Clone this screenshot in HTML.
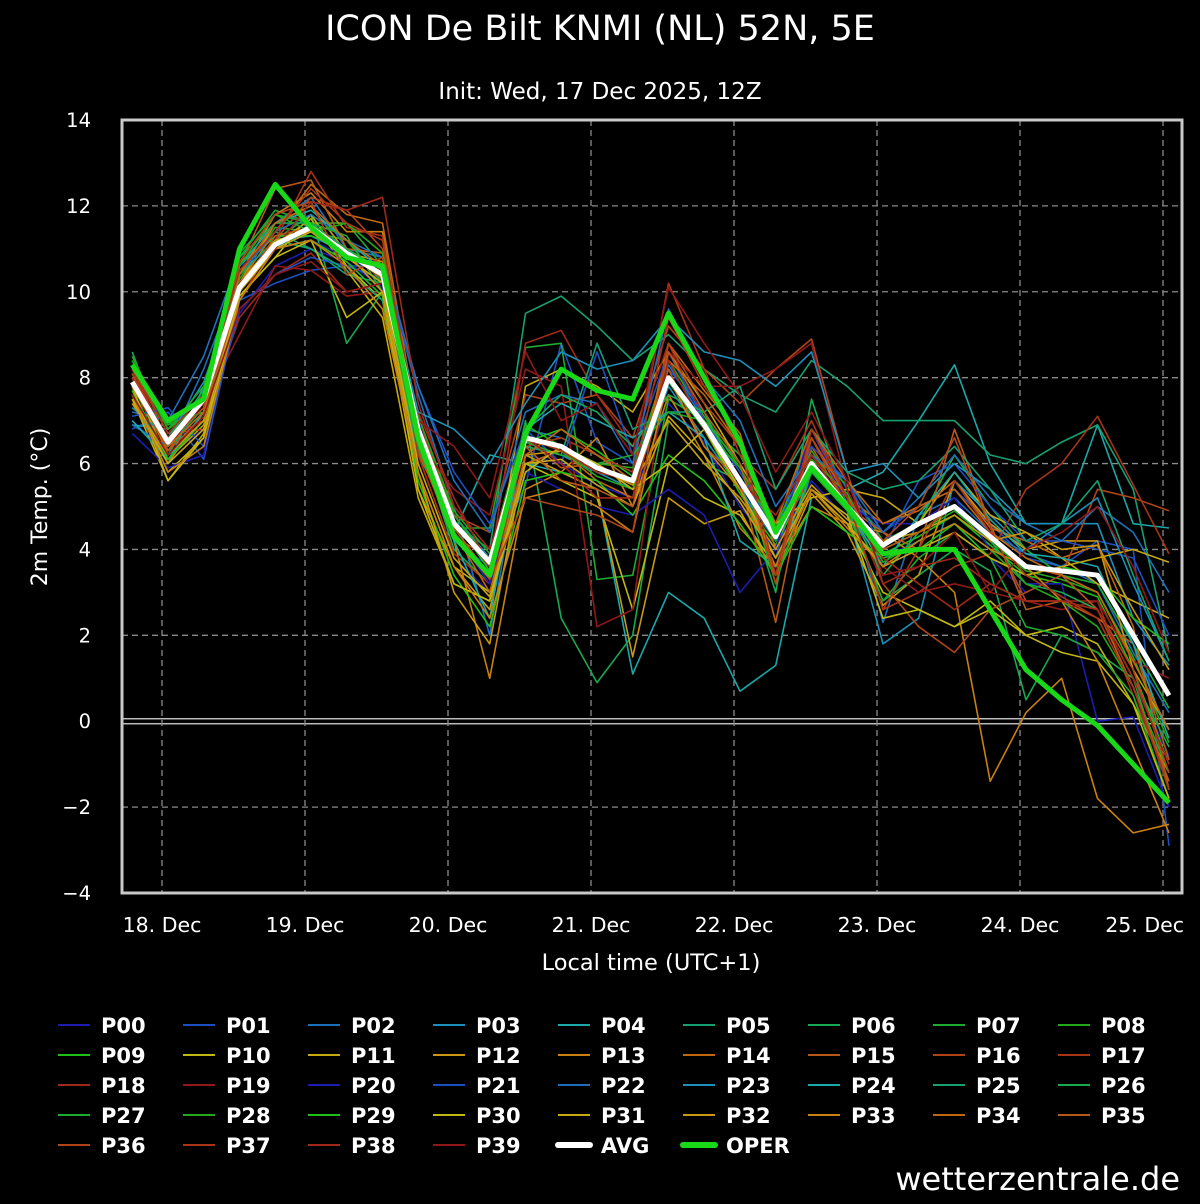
<!DOCTYPE html>
<html><head><meta charset="utf-8"><style>
html,body{margin:0;padding:0;background:#000;}
body{width:1200px;height:1200px;overflow:hidden;font-family:"DejaVu Sans","Liberation Sans",sans-serif;color:#fff;}
svg text{fill:#fff;}
</style></head><body>
<svg id="chart" width="1200" height="1200" xmlns="http://www.w3.org/2000/svg">
<rect x="0" y="0" width="1200" height="1200" fill="#000"/>
<text x="600" y="40" font-size="35" text-anchor="middle" font-family="DejaVu Sans, sans-serif">ICON De Bilt KNMI (NL) 52N, 5E</text>
<text x="600" y="99" font-size="23" text-anchor="middle" font-family="DejaVu Sans, sans-serif">Init: Wed, 17 Dec 2025, 12Z</text>
<g id="grid"></g>
<g id="series"></g>
<rect x="122" y="120" width="1060" height="773" fill="none" stroke="#c8c8c8" stroke-width="3"/>
<g id="axes"></g>
<text transform="translate(47,507) rotate(-90)" font-size="22" text-anchor="middle">2m Temp. (°C)</text>
<text x="651" y="970" font-size="22.5" text-anchor="middle">Local time (UTC+1)</text>
<g id="legend"></g>
<text x="1180" y="1190" font-size="32" text-anchor="end">wetterzentrale.de</text>
</svg>
<script>
const yTicks=[14,12,10,8,6,4,2,0,-2,-4];
const dayLabels=["18. Dec","19. Dec","20. Dec","21. Dec","22. Dec","23. Dec","24. Dec","25. Dec"];
const hours=[-5,1,7,13,19,25,31,37,43,49,55,61,67,73,79,85,91,97,103,109,115,121,127,133,139,145,151,157,163,169];
const avg=[7.9,6.5,7.5,10.1,11.1,11.5,10.9,10.4,6.8,4.6,3.7,6.6,6.4,5.9,5.6,8.0,6.9,5.6,4.3,6.0,5.0,4.1,4.6,5.0,4.3,3.6,3.5,3.4,2.0,0.6];
const oper=[8.3,7.0,7.5,11.0,12.5,11.5,10.8,10.6,6.6,4.3,3.4,6.7,8.2,7.7,7.5,9.5,8.0,6.5,4.4,5.9,5.0,3.9,4.0,4.0,2.6,1.2,0.5,-0.1,-1.0,-1.9];
const members=[
[7.0,6.2,6.8,9.5,10.6,11.0,10.7,10.1,6.0,3.8,3.0,6.2,6.0,5.5,5.2,7.4,6.5,5.0,4.0,5.6,4.7,3.8,4.2,4.6,3.8,3.0,3.4,2.6,1.0,-0.8],
[6.8,7.2,6.1,9.8,10.2,10.5,10.6,10.3,7.2,4.2,3.6,5.5,8.8,6.5,6.0,8.2,7.2,5.5,3.8,6.6,5.2,4.4,5.0,5.4,4.6,3.8,3.6,4.2,4.0,-2.9],
[7.2,7.0,8.5,10.8,11.6,12.2,11.0,10.8,7.6,5.0,2.0,6.8,6.6,6.2,5.8,8.3,7.0,5.8,4.4,6.8,5.4,2.3,4.8,5.2,4.4,3.9,3.6,3.2,1.6,0.2],
[6.9,6.8,7.6,10.4,11.2,11.3,10.9,10.0,7.0,4.8,3.8,6.4,6.2,5.8,5.4,7.8,6.6,5.4,4.2,6.0,4.9,1.8,2.4,5.6,4.8,4.0,4.6,4.6,2.4,1.3],
[7.4,6.0,7.8,10.2,11.0,11.6,10.8,10.4,6.4,4.4,6.2,6.0,5.8,5.4,1.1,3.0,2.4,0.7,1.3,5.2,5.4,5.8,7.0,8.3,6.0,4.6,4.6,6.9,4.6,4.5],
[8.0,6.6,7.0,10.6,11.4,11.0,10.4,10.2,6.2,4.6,4.0,9.5,9.9,9.2,8.4,9.0,8.2,7.6,7.2,8.4,7.8,7.0,7.0,7.0,6.2,6.0,6.5,6.9,5.4,1.6],
[8.6,6.4,7.3,10.0,11.2,11.8,8.8,10.0,6.6,4.0,3.2,7.0,2.4,0.9,2.0,7.0,6.0,5.6,3.0,7.5,5.0,2.8,3.4,4.0,3.5,0.5,2.0,1.6,1.0,-1.6],
[8.4,6.8,7.4,10.8,11.9,11.6,11.6,10.6,6.9,4.5,4.5,8.7,8.8,3.3,3.4,7.5,7.0,6.2,4.6,6.2,5.5,4.2,4.6,6.2,5.0,4.0,3.4,3.2,1.8,0.3],
[8.2,6.9,7.6,10.3,11.5,11.4,11.2,10.2,7.1,4.9,3.9,6.9,6.4,6.0,5.9,8.4,7.1,5.9,4.5,6.3,5.1,4.0,4.4,4.9,4.2,3.5,3.3,3.0,1.5,-0.5],
[7.8,6.3,7.1,10.5,11.3,11.3,11.0,10.5,6.7,4.7,3.5,6.5,6.8,6.3,5.7,8.0,6.8,5.3,4.1,5.8,4.9,3.9,4.3,4.8,4.1,3.4,3.2,2.9,1.2,-1.0],
[7.6,5.8,6.6,9.9,10.8,11.8,10.6,9.8,5.8,3.6,3.0,6.0,5.6,5.2,2.6,6.0,5.2,4.8,3.6,5.4,4.6,3.0,2.6,2.2,2.8,2.0,2.2,1.8,0.4,-1.2],
[7.5,5.6,6.7,10.0,11.1,11.7,10.5,9.4,5.2,3.2,2.8,7.8,8.2,7.8,7.2,8.6,7.4,6.0,4.6,5.2,5.4,5.2,4.6,5.8,4.8,4.4,3.8,3.2,2.8,2.4],
[7.9,6.1,6.9,10.2,11.6,12.0,10.9,10.7,5.4,3.6,2.6,6.2,5.8,5.4,1.5,5.2,4.6,4.9,3.4,5.3,4.4,2.7,3.4,5.6,4.6,4.0,4.2,4.2,1.2,-0.2],
[7.7,6.0,7.2,10.4,11.8,12.3,11.4,11.4,6.4,4.2,1.0,5.4,5.8,6.6,5.0,7.6,6.2,4.5,3.6,5.0,4.6,4.4,3.8,3.0,-1.4,0.2,1.0,-1.8,-2.6,-2.4],
[8.1,6.2,7.0,10.2,11.4,12.5,11.8,11.6,6.8,4.4,3.4,6.0,6.3,5.6,5.2,8.8,7.7,6.7,4.0,6.6,5.2,4.6,4.9,5.6,4.5,4.2,3.8,4.1,2.2,-1.6],
[8.0,6.3,7.5,10.6,12.4,12.6,11.0,10.9,6.3,4.3,3.8,6.6,5.9,6.0,5.5,8.2,6.4,5.6,2.3,6.4,5.0,4.4,4.0,6.8,4.6,2.6,2.8,2.4,1.8,-0.9],
[8.3,6.7,6.8,10.1,11.2,12.2,11.9,11.0,7.0,4.8,4.4,7.6,7.4,7.6,6.6,9.2,8.2,7.4,8.2,8.9,5.8,3.2,2.2,1.6,2.6,3.0,3.4,5.4,5.2,4.9],
[8.2,6.5,7.4,9.8,11.2,12.8,11.5,11.3,6.2,3.9,3.2,6.4,6.6,6.2,5.8,10.2,8.2,6.2,5.4,7.0,5.2,2.6,3.0,3.6,3.9,5.4,6.0,7.1,5.5,3.9],
[7.6,6.6,7.0,9.4,10.4,10.9,10.0,10.2,7.2,5.2,3.6,8.8,9.1,7.6,6.4,8.8,7.0,5.4,3.6,6.2,5.2,3.2,3.6,3.8,3.2,2.8,2.8,2.8,0.6,-1.4],
[7.8,6.4,7.4,9.0,10.6,10.5,9.9,10.0,6.5,5.4,4.8,8.2,7.8,2.2,2.6,8.6,7.8,7.8,8.2,8.8,5.4,3.6,3.0,3.2,3.0,2.8,2.6,2.8,1.4,1.0],
[6.7,5.9,6.2,10.6,11.0,11.2,10.8,10.4,7.0,4.4,3.2,5.8,5.4,5.0,4.8,5.4,4.8,3.0,4.0,6.8,5.0,4.6,4.6,5.2,4.0,3.2,3.2,0.0,0.1,-2.0],
[7.1,7.3,6.4,9.6,10.4,10.8,10.6,10.6,7.8,5.8,4.6,6.8,6.0,8.6,6.2,8.6,7.0,5.8,4.4,6.4,5.6,4.0,5.6,6.0,5.0,4.2,4.2,4.0,3.8,2.0],
[6.9,6.4,8.2,10.4,11.4,11.8,11.2,10.8,7.8,5.6,4.4,7.2,7.6,7.4,6.0,9.6,8.0,7.0,5.0,6.2,5.6,4.4,5.2,6.2,5.2,4.6,4.2,5.0,4.4,3.0],
[7.3,6.6,7.9,10.2,11.0,11.4,10.8,10.6,7.2,6.8,6.0,7.4,8.6,8.2,8.4,9.4,8.6,8.4,7.8,8.6,5.8,6.0,5.2,6.0,5.4,4.6,4.6,5.2,3.2,1.4],
[7.0,6.1,7.2,10.6,11.6,11.9,11.2,10.5,6.6,4.2,2.4,6.8,7.4,7.0,6.6,7.2,6.6,4.2,3.6,5.8,5.0,3.6,4.8,5.8,4.7,3.9,3.8,3.6,1.8,-0.4],
[7.5,6.2,7.6,10.4,11.2,11.0,10.5,9.8,6.6,4.6,3.6,6.4,6.2,8.8,6.8,7.2,7.2,7.8,5.4,6.8,5.8,5.4,5.6,6.4,5.4,4.2,4.6,5.6,3.4,1.4],
[8.0,6.6,7.7,10.8,11.6,11.6,11.0,10.4,6.8,4.6,3.6,6.8,7.6,7.2,6.4,7.6,7.2,5.6,4.2,6.0,5.0,3.4,4.4,5.0,4.2,3.2,3.0,2.6,1.0,-0.6],
[8.4,6.9,7.2,10.9,11.8,11.6,11.3,10.0,6.4,4.4,3.4,6.5,6.2,6.0,6.2,7.2,7.0,6.0,3.2,5.8,4.9,2.8,3.8,4.4,3.8,2.2,2.0,1.6,0.6,-1.8],
[8.5,6.8,7.8,10.6,11.8,11.4,11.6,10.9,6.9,4.8,3.7,6.6,6.3,5.7,5.4,7.9,6.8,5.9,4.4,6.1,5.3,3.7,4.2,4.6,4.0,3.2,2.8,2.2,0.8,-1.2],
[7.7,6.1,7.0,10.1,11.0,11.2,10.7,9.9,5.6,3.4,2.2,5.6,5.8,5.6,4.8,6.2,5.6,4.6,3.4,5.0,4.4,3.8,4.0,4.6,3.8,3.4,3.6,3.4,2.4,1.8],
[7.8,5.6,6.6,9.9,10.8,11.2,9.4,10.0,5.4,3.2,2.8,5.8,6.4,6.0,5.4,6.0,6.8,5.4,3.8,5.4,4.8,2.4,2.6,2.2,2.6,2.0,1.6,1.4,0.4,-1.8],
[7.5,6.0,6.8,10.0,11.0,11.4,10.8,10.2,6.0,3.8,2.9,6.0,6.1,5.5,5.0,7.1,6.2,5.1,3.8,5.4,4.6,3.6,4.0,4.4,3.8,3.4,3.6,3.8,4.0,3.7],
[7.4,6.2,7.0,10.2,11.2,11.4,10.9,10.0,5.8,3.0,1.8,6.2,6.3,5.9,5.5,7.0,6.0,5.2,4.0,5.5,4.7,4.2,4.4,4.8,4.2,4.4,4.0,4.1,2.6,1.2],
[7.6,5.8,6.4,9.8,11.0,11.2,10.6,9.6,5.8,3.6,2.4,5.2,5.4,5.0,4.4,8.0,6.4,5.4,3.6,5.4,4.5,3.6,4.2,4.6,4.0,3.6,2.8,1.4,-0.6,-2.6],
[7.8,6.4,7.2,10.4,11.6,12.0,11.2,10.6,6.7,4.4,3.0,6.2,6.8,6.2,5.6,8.4,7.6,6.4,4.6,6.8,5.6,4.6,5.0,5.4,4.4,3.8,3.4,3.0,1.4,-0.2],
[7.9,6.3,7.1,10.0,11.3,11.5,10.9,10.3,6.6,4.5,3.4,6.4,5.6,5.4,5.0,8.6,7.2,6.0,3.4,6.6,5.2,4.0,4.4,5.0,4.3,3.6,3.4,2.6,0.8,-1.4],
[8.1,6.5,7.3,10.7,11.8,12.1,10.4,10.8,6.6,4.3,3.3,5.2,5.0,4.8,4.4,8.8,7.4,6.4,3.2,6.6,5.0,4.2,5.0,6.6,4.5,2.8,2.8,2.6,1.2,-1.2],
[8.2,6.7,7.6,10.5,11.4,12.4,11.6,11.2,6.8,4.6,3.6,6.6,6.3,5.8,5.6,9.4,7.8,6.6,3.4,6.8,5.2,2.6,4.0,5.6,4.4,3.4,2.9,2.4,0.8,-1.6],
[8.0,6.6,7.4,10.2,11.0,12.1,11.9,12.2,7.4,5.0,4.0,6.6,6.0,5.2,5.2,8.4,6.8,5.6,4.8,6.2,5.0,3.8,3.2,2.6,3.2,2.8,2.8,2.6,1.0,-1.0],
[7.6,6.2,7.1,9.6,10.4,10.7,10.0,10.2,7.0,6.4,5.2,8.6,7.0,7.4,6.2,10.1,8.8,7.6,5.8,7.2,5.6,3.4,3.6,4.4,3.0,4.0,4.4,5.0,3.6,1.6]
];
const palette=["#1c1cb0","#1e4fc0","#1f6fb8","#1d90b8","#1aa8a8","#16a070","#18a850","#1caa30","#22a81a","#1ec018","#c0b810","#c8a810","#c89810","#c88010","#c06810","#b85818","#b04418","#a83418","#a02818","#901818"];

const PL=122,PR=1182,PT=120,PB=893,YMAX=14,YMIN=-4;
const xDay0=162, pxPerHour=143/24;
function xScale(h){return xDay0+h*pxPerHour;}
function yScale(v){return PT+(YMAX-v)*(PB-PT)/(YMAX-YMIN);}
const NS="http://www.w3.org/2000/svg";
function mk(tag,attrs,parent){const e=document.createElementNS(NS,tag);for(const k in attrs)e.setAttribute(k,attrs[k]);parent.appendChild(e);return e;}
const grid=document.getElementById('grid'),axes=document.getElementById('axes'),ser=document.getElementById('series'),leg=document.getElementById('legend');

yTicks.forEach(t=>{
  const y=yScale(t);
  if(t!==YMAX&&t!==YMIN&&t!==0){const l=mk('line',{x1:PL,x2:PR,y1:y,y2:y,stroke:'#8a8a8a','stroke-width':1.3,'stroke-dasharray':'6,4'},grid);
  
  }
  const tx=mk('text',{x:91,y:y+7,'font-size':19.5,'text-anchor':'end'},axes);
  tx.textContent=(t<0?'\u2212'+(-t):t);
  
  
});
const zl=mk('rect',{x:PL,y:yScale(0)-2.5,width:PR-PL,height:5,fill:'none',stroke:'#bbbbbb','stroke-width':1.5},grid);


dayLabels.forEach((d,i)=>{
  const x=xScale(i*24);
  const l=mk('line',{x1:x,x2:x,y1:PT,y2:PB,stroke:'#8a8a8a','stroke-width':1.3,'stroke-dasharray':'6,4'},grid);
  
  
  const last=i===dayLabels.length-1;
  const tx=mk('text',{x:last?1184:x,y:932,'font-size':20.5,'text-anchor':last?'end':'middle'},axes);
  tx.textContent=d;
  
  
});
function pts(arr){return arr.map((v,i)=>xScale(hours[i]).toFixed(1)+','+yScale(v).toFixed(1)).join(' ');}
members.forEach((m,i)=>{
  const p=mk('polyline',{points:pts(m),fill:'none',stroke:palette[i%20],'stroke-width':1.6,'stroke-linejoin':'round'},ser);
  
  
});
const pa=mk('polyline',{points:pts(avg),fill:'none',stroke:'#ffffff','stroke-width':5,'stroke-linejoin':'round'},ser);


const po=mk('polyline',{points:pts(oper),fill:'none',stroke:'#18d818','stroke-width':5,'stroke-linejoin':'round'},ser);



const labels=[];for(let i=0;i<40;i++)labels.push('P'+String(i).padStart(2,'0'));labels.push('AVG','OPER');
labels.forEach((lb,i)=>{
  const col=i%9,row=Math.floor(i/9);
  const x=58+col*125,y=1025+row*30;
  const g=mk('g',{},leg);
  
  
  let color,w=2;
  if(lb==='AVG'){color='#fff';w=6;}else if(lb==='OPER'){color='#18d818';w=6;}else color=palette[i%20];
  mk('line',{x1:x,x2:x+32,y1:y,y2:y,stroke:color,'stroke-width':w,'stroke-linecap':w>2?'round':'butt'},g);
  const t=mk('text',{x:x+43,y:y+8,'font-size':21,'font-weight':'bold'},g);
  t.textContent=lb;
});
</script>
</body></html>
